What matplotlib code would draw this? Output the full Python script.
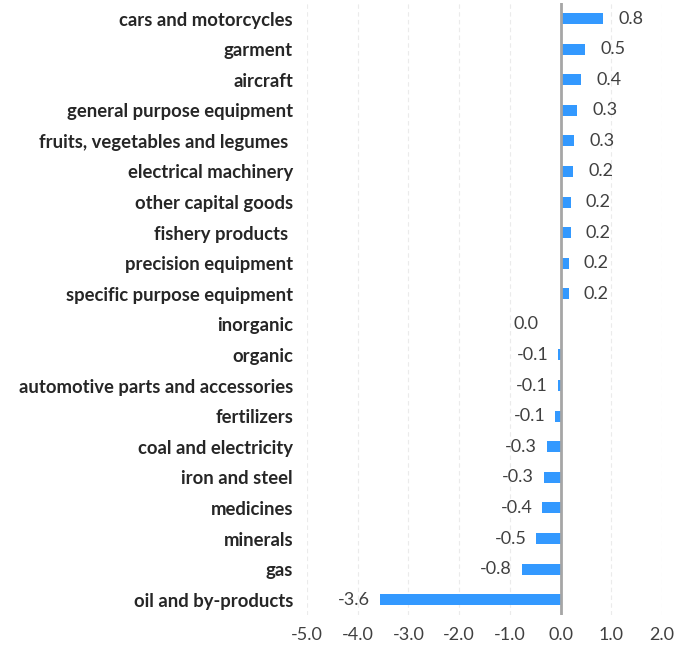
import matplotlib.pyplot as plt

# categories top to bottom and their values
categories = ["cars and motorcycles", "garment", "aircraft", "general purpose equipment",
              "fruits, vegetables and legumes ", "electrical machinery", "other capital goods",
              "fishery products ", "precision equipment", "specific purpose equipment",
              "inorganic", "organic", "automotive parts and accessories", "fertilizers",
              "coal and electricity", "iron and steel", "medicines", "minerals", "gas",
              "oil and by-products"]
values = [0.84, 0.48, 0.41, 0.33, 0.27, 0.24, 0.20, 0.20, 0.16, 0.16,
          0.0, -0.05, -0.06, -0.11, -0.27, -0.33, -0.36, -0.48, -0.77, -3.56]
xticks = [-5, -4, -3, -2, -1, 0, 1, 2]

fig = plt.figure(figsize=(6.91, 6.55), dpi=100)
ax = fig.add_axes([0.4443, 0.0611, 0.5137, 0.934])

pos = list(range(len(categories)))[::-1]
ax.barh(pos, values, height=0.36, color="#3399ff", zorder=2)

# data labels outside the bar ends
for y, v in zip(pos, values):
    if v > 0:
        ax.annotate(f"{v:.1f}", (v, y), xytext=(11, 0), textcoords="offset points",
                    ha="left", va="center", fontsize=13, color="#404040", family="Lato")
    else:
        ax.annotate(f"{v:.1f}", (min(v, -0.25 if v == 0 else v), y), xytext=(-7, 0),
                    textcoords="offset points", ha="right", va="center",
                    fontsize=13, color="#404040", family="Lato")

ax.axvline(0, color="#a6a6a6", lw=2, zorder=3)
ax.set_xlim(-5, 2)
ax.set_ylim(-0.5, len(categories) - 0.5)
ax.set_xticks(xticks)
ax.set_xticklabels([f"{t:.1f}" for t in xticks], fontsize=13, color="#404040", family="Lato")
ax.set_yticks(pos)
ax.set_yticklabels(categories, fontsize=13.3, fontweight="bold", color="#262626", family="Lato")
ax.tick_params(axis="both", length=0)
ax.tick_params(axis="y", pad=10)
ax.tick_params(axis="x", pad=9)
ax.grid(axis="x", color="#ebebeb", ls=(0, (4, 3)), lw=0.8, zorder=0)
for s in ax.spines.values():
    s.set_visible(False)

fig.savefig("out.png", dpi=100)
